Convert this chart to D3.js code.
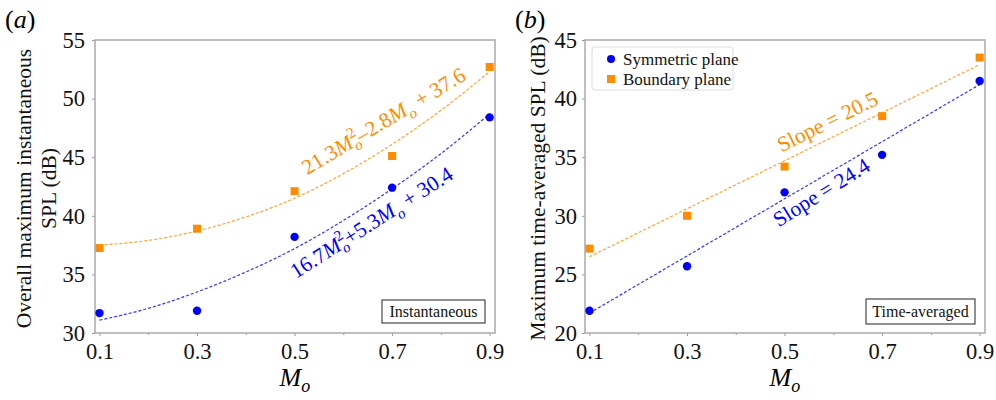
<!DOCTYPE html>
<html>
<head>
<meta charset="utf-8">
<script src="https://cdn.jsdelivr.net/npm/d3@7"></script>
<style>
  body { margin: 0; background: #fff; }
  svg text { font-family: "Liberation Serif", "Times New Roman", serif; }
</style>
</head>
<body>
<div id="chart"></div>
<script>
// data
var machs = [0.1, 0.3, 0.5, 0.7, 0.9];
var instSym = [31.7, 31.9, 38.2, 42.4, 48.4];
var instBnd = [37.25, 38.9, 42.1, 45.1, 52.7];
var avgSym = [21.9, 25.7, 32.0, 35.2, 41.5];
var avgBnd = [27.2, 30.0, 34.2, 38.5, 43.5];

// fitted curves (dashed), read at each 0.1 step
var fitMachs = [0.1, 0.2, 0.3, 0.4, 0.5, 0.6, 0.7, 0.8, 0.9];
var instSymFit = [31.1, 32.1, 33.5, 35.2, 37.2, 39.6, 42.3, 45.3, 48.7];
var instBndFit = [37.5, 37.9, 38.7, 39.9, 41.5, 43.6, 46.1, 49.0, 52.3];
var avgFitMachs = [0.1, 0.9];
var avgSymFit = [21.7, 41.2];
var avgBndFit = [26.5, 42.9];

var xTicks = [0.1, 0.3, 0.5, 0.7, 0.9];
var xMinor = [0.2, 0.4, 0.6, 0.8];
var instTicks = [30, 35, 40, 45, 50, 55];
var avgTicks = [20, 25, 30, 35, 40, 45];

var seriesNames = ["Symmetric plane", "Boundary plane"];
var blue = "#0000ff", orange = "#ff8c00";

var svg = d3.select("#chart").append("svg")
    .attr("width", 996)
    .attr("height", 400);

function panel(opt) {
  var x = d3.scaleLinear().domain([0.0908, 0.911]).range([opt.left, opt.left + 400]);
  var y = d3.scaleLinear().domain(opt.yDomain).range([333, 40]);
  var g = svg.append("g");

  // axes
  g.append("g")
    .attr("transform", "translate(0,333)")
    .call(d3.axisBottom(x).tickValues(xTicks).tickSize(3).tickPadding(7).tickFormat(d3.format(".1f")))
    .call(function(a) { a.select(".domain").remove(); });
  g.append("g")
    .attr("transform", "translate(0,333)")
    .call(d3.axisBottom(x).tickValues(xMinor).tickSize(2).tickFormat(""))
    .call(function(a) { a.select(".domain").remove(); });
  g.append("g")
    .attr("transform", "translate(" + opt.left + ",0)")
    .call(d3.axisLeft(y).tickValues(opt.yTicks).tickSize(3).tickPadding(opt.pad))
    .call(function(a) { a.select(".domain").remove(); });

  g.selectAll(".tick line").attr("stroke", "#999");
  g.selectAll(".tick text")
    .style("font-size", "22.5px")
    .attr("fill", "#111");

  // frame
  g.append("rect")
    .attr("x", x.range()[0]).attr("y", y.range()[1])
    .attr("width", x.range()[1] - x.range()[0])
    .attr("height", y.range()[0] - y.range()[1])
    .attr("fill", "none")
    .attr("stroke", "#aaa")
    .attr("stroke-width", 1.5);

  // fitted lines
  var line = d3.line().curve(d3.curveMonotoneX)
    .x(function(d) { return x(d[0]); })
    .y(function(d) { return y(d[1]); });
  [[opt.symFit, blue], [opt.bndFit, orange]].forEach(function(s) {
    g.append("path")
      .datum(d3.zip(opt.fitX, s[0]))
      .attr("d", line)
      .attr("fill", "none")
      .attr("stroke", s[1])
      .attr("stroke-opacity", 0.8)
      .attr("stroke-width", 1.2)
      .attr("stroke-dasharray", "3,2");
  });

  // points
  g.selectAll(".sym").data(d3.zip(machs, opt.sym)).enter()
    .append("circle")
      .attr("cx", function(d) { return x(d[0]); })
      .attr("cy", function(d) { return y(d[1]); })
      .attr("r", 4.2)
      .attr("fill", blue);
  g.selectAll(".bnd").data(d3.zip(machs, opt.bnd)).enter()
    .append("rect")
      .attr("x", function(d) { return x(d[0]) - 4; })
      .attr("y", function(d) { return y(d[1]) - 4; })
      .attr("width", 8)
      .attr("height", 8)
      .attr("fill", orange);

  // x label
  var xl = g.append("text")
    .attr("x", x(0.5) - 15).attr("y", 386)
    .style("font-size", "26px");
  xl.append("tspan").style("font-style", "italic").text("M");
  xl.append("tspan").style("font-style", "italic").style("font-size", "18px").attr("dy", 6).text("o");

  // y label
  var ymid = (y.range()[0] + y.range()[1]) / 2 + 2;
  opt.yLabel.forEach(function(t, i) {
    g.append("text")
      .attr("transform", "translate(" + opt.yLabelX[i] + "," + ymid + ") rotate(-90)")
      .attr("text-anchor", "middle")
      .style("font-size", "21.5px")
      .attr("fill", "#111")
      .text(t);
  });

  // panel letter
  var pl = g.append("text")
    .attr("x", opt.letterX).attr("y", 28)
    .style("font-size", "26px");
  pl.append("tspan").text("(");
  pl.append("tspan").style("font-style", "italic").text(opt.letter);
  pl.append("tspan").text(")");

  // corner box
  g.append("rect")
    .attr("x", opt.box[0]).attr("y", opt.box[1])
    .attr("width", opt.box[2]).attr("height", opt.box[3])
    .attr("fill", "#fff")
    .attr("stroke", "#222")
    .attr("stroke-width", 1);
  g.append("text")
    .attr("x", opt.box[0] + opt.box[2] / 2)
    .attr("y", opt.box[1] + opt.box[3] / 2 + 5.5)
    .attr("text-anchor", "middle")
    .style("font-size", "16px")
    .attr("fill", "#111")
    .text(opt.boxText);

  return {g: g, x: x, y: y};
}

// superscript / subscript helper for the fit formulas
function formula(g, x, y, px, py, angle, color, size, parts) {
  var t = g.append("text")
    .attr("transform", "translate(" + x(px) + "," + y(py) + ") rotate(" + angle + ")")
    .attr("fill", color)
    .style("font-size", size + "px");
  parts.forEach(function(p) {
    var s = t.append("tspan").text(p.t);
    if (p.i) s.style("font-style", "italic");
    if (p.small) s.style("font-size", "15px");
    if (p.dx) s.attr("dx", p.dx);
    if (p.dy) s.attr("dy", p.dy);
  });
  return t;
}

var a = panel({
  left: 95, yDomain: [30, 55], yTicks: instTicks, pad: 7,
  sym: instSym, bnd: instBnd, fitX: fitMachs, symFit: instSymFit, bndFit: instBndFit,
  yLabel: ["Overall maximum instantaneous", "SPL (dB)"], yLabelX: [31, 56],
  letter: "a", letterX: 5,
  box: [382, 300, 103, 23], boxText: "Instantaneous"
});

formula(a.g, a.x, a.y, 0.526, 43.45, -31, orange, 21.5, [
  {t: "21.3"}, {t: "M", i: true},
  {t: "2", small: true, dy: -9},
  {t: "o", i: true, small: true, dx: -7.5, dy: 14},
  {t: "–2.8", dy: -5}, {t: "M", i: true},
  {t: "o", i: true, small: true, dy: 6},
  {t: " + 37.6", dy: -6}
]);
formula(a.g, a.x, a.y, 0.503, 34.6, -32.5, blue, 21.5, [
  {t: "16.7"}, {t: "M", i: true},
  {t: "2", small: true, dy: -9},
  {t: "o", i: true, small: true, dx: -7.5, dy: 14},
  {t: "+5.3", dy: -5}, {t: "M", i: true},
  {t: "o", i: true, small: true, dy: 6},
  {t: " + 30.4", dy: -6}
]);

var b = panel({
  left: 585, yDomain: [20, 45], yTicks: avgTicks, pad: 5,
  sym: avgSym, bnd: avgBnd, fitX: avgFitMachs, symFit: avgSymFit, bndFit: avgBndFit,
  yLabel: ["Maximum time-averaged SPL (dB)"], yLabelX: [545],
  letter: "b", letterX: 515,
  box: [866, 299, 109, 25], boxText: "Time-averaged"
});

formula(b.g, b.x, b.y, 0.494, 35.4, -26.5, orange, 21.5, [{t: "Slope = 20.5"}]);
formula(b.g, b.x, b.y, 0.488, 29.0, -32, blue, 21.5, [{t: "Slope = 24.4"}]);

// legend
var leg = b.g.append("g").attr("transform", "translate(592,47)");
leg.append("rect")
  .attr("width", 141).attr("height", 43).attr("rx", 3)
  .attr("fill", "#fff").attr("stroke", "#ddd");
seriesNames.forEach(function(n, i) {
  var row = leg.append("g").attr("transform", "translate(0," + (12 + i * 20) + ")");
  if (i === 0) {
    row.append("circle").attr("cx", 19).attr("cy", 0).attr("r", 4).attr("fill", blue);
  } else {
    row.append("rect").attr("x", 15).attr("y", -4).attr("width", 8).attr("height", 8).attr("fill", orange);
  }
  row.append("text").attr("x", 31).attr("y", 5.5)
    .style("font-size", "17px").attr("fill", "#111").text(n);
});
</script>
</body>
</html>
